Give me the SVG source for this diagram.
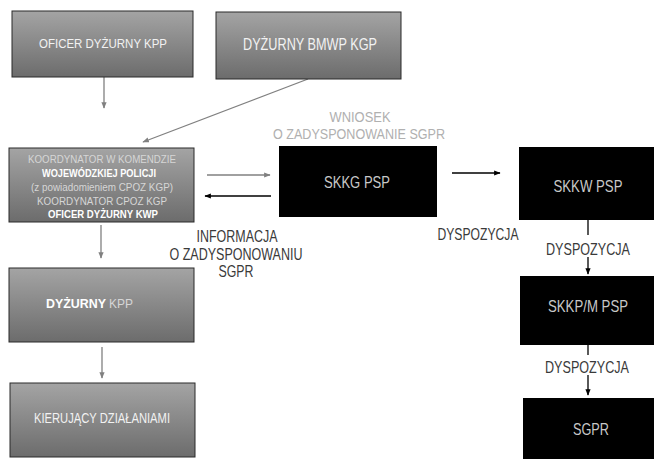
<svg xmlns="http://www.w3.org/2000/svg" width="654" height="459" viewBox="0 0 654 459">
<style>
text{font-family:"Liberation Sans",Arial,sans-serif;text-anchor:middle}
.g{fill:url(#grad);stroke:#2a2a2a;stroke-width:1}
.k{fill:#000}
.wt{fill:#f2f2f2;font-size:13px}
.lt{fill:#d6d6d6;font-size:11.5px}
.bw{fill:#ffffff;font-size:11.5px;font-weight:bold}
.ck{fill:#c8c8c8;font-size:17px}
.lbl{fill:#3a3a3a;font-size:16.5px}
.req{fill:#b0b0b0;font-size:15px}
.ca{stroke:#808080;stroke-width:1.3;fill:none}
.cb{stroke:#000;stroke-width:1.3;fill:none}
</style>
<defs>
<linearGradient id="grad" x1="0" y1="0" x2="0" y2="1">
<stop offset="0" stop-color="#a4a4a4"/>
<stop offset="1" stop-color="#6c6c6c"/>
</linearGradient>
<marker id="ag" viewBox="0 0 10 10" refX="9" refY="5" markerWidth="5" markerHeight="5" orient="auto"><path d="M0,1 L10,5 L0,9 z" fill="#808080"/></marker>
<marker id="ab" viewBox="0 0 10 10" refX="9" refY="5" markerWidth="5" markerHeight="5" orient="auto"><path d="M0,1 L10,5 L0,9 z" fill="#000"/></marker>
</defs>
<rect width="654" height="459" fill="#fff"/>
<g id="connectors">
<line class="ca" x1="104" y1="77" x2="104" y2="108" marker-end="url(#ag)"/>
<line class="ca" x1="308" y1="79" x2="143" y2="142" marker-end="url(#ag)"/>
<line class="ca" x1="207" y1="175" x2="270" y2="175" marker-end="url(#ag)"/>
<line class="cb" x1="271" y1="196" x2="205" y2="196" marker-end="url(#ab)"/>
<line class="ca" x1="101" y1="225" x2="101" y2="258" marker-end="url(#ag)"/>
<line class="ca" x1="102" y1="347" x2="102" y2="378" marker-end="url(#ag)"/>
<line class="cb" x1="452" y1="173" x2="500" y2="173" marker-end="url(#ab)"/>
<line class="cb" x1="588" y1="220" x2="588" y2="235"/>
<line class="cb" x1="588" y1="257" x2="588" y2="274" marker-end="url(#ab)"/>
<line class="cb" x1="588" y1="345" x2="588" y2="355"/>
<line class="cb" x1="588" y1="375" x2="588" y2="395" marker-end="url(#ab)"/>
<text class="req" x="360" y="122" textLength="61" lengthAdjust="spacingAndGlyphs">WNIOSEK</text>
<text class="req" x="359" y="139" textLength="172" lengthAdjust="spacingAndGlyphs">O ZADYSPONOWANIE SGPR</text>
<text class="lbl" x="237" y="242" textLength="81" lengthAdjust="spacingAndGlyphs">INFORMACJA</text>
<text class="lbl" x="236" y="260" textLength="133" lengthAdjust="spacingAndGlyphs">O ZADYSPONOWANIU</text>
<text class="lbl" x="236" y="277" textLength="35" lengthAdjust="spacingAndGlyphs">SGPR</text>
<text class="lbl" x="478" y="240" textLength="81" lengthAdjust="spacingAndGlyphs">DYSPOZYCJA</text>
<text class="lbl" x="588" y="255" textLength="84" lengthAdjust="spacingAndGlyphs">DYSPOZYCJA</text>
<text class="lbl" x="587" y="373" textLength="84" lengthAdjust="spacingAndGlyphs">DYSPOZYCJA</text>
</g>
<g id="oficer-kpp">
<rect class="g" x="12" y="11" width="181" height="66"/>
<text class="wt" x="103" y="48" textLength="128" lengthAdjust="spacingAndGlyphs">OFICER DYŻURNY KPP</text>
</g>
<g id="bmwp">
<rect class="g" x="216" y="12" width="185" height="67"/>
<text class="wt" x="310" y="50" style="font-size:16px" textLength="134" lengthAdjust="spacingAndGlyphs">DYŻURNY BMWP KGP</text>
</g>
<g id="koordynator">
<rect class="g" x="9" y="148" width="185" height="74"/>
<text class="lt" x="102" y="163" textLength="148" lengthAdjust="spacingAndGlyphs">KOORDYNATOR W KOMENDZIE</text>
<text class="bw" x="99" y="177" textLength="114" lengthAdjust="spacingAndGlyphs">WOJEWÓDZKIEJ POLICJI</text>
<text class="lt" x="102" y="191" textLength="142" lengthAdjust="spacingAndGlyphs">(z powiadomieniem CPOZ KGP)</text>
<text class="lt" x="102" y="205" textLength="130" lengthAdjust="spacingAndGlyphs">KOORDYNATOR CPOZ KGP</text>
<text class="bw" x="103" y="218" textLength="110" lengthAdjust="spacingAndGlyphs">OFICER DYŻURNY KWP</text>
</g>
<g id="skkg">
<rect class="k" x="279" y="146" width="158" height="71"/>
<text class="ck" x="357" y="188" textLength="66" lengthAdjust="spacingAndGlyphs">SKKG  PSP</text>
</g>
<g id="skkw">
<rect class="k" x="519" y="147" width="135" height="73"/>
<text class="ck" x="588" y="192" textLength="69" lengthAdjust="spacingAndGlyphs">SKKW  PSP</text>
</g>
<g id="skkp">
<rect class="k" x="520" y="276" width="134" height="69"/>
<text class="ck" x="588" y="312" textLength="80" lengthAdjust="spacingAndGlyphs">SKKP/M  PSP</text>
</g>
<g id="sgpr">
<rect class="k" x="523" y="398" width="131" height="61"/>
<text class="ck" x="591" y="435" textLength="36" lengthAdjust="spacingAndGlyphs">SGPR</text>
</g>
<g id="dyzurny-kpp">
<rect class="g" x="9" y="268" width="185" height="74"/>
<text x="46" y="308" style="font-size:12.5px;text-anchor:start;font-weight:bold" fill="#ffffff" textLength="60" lengthAdjust="spacingAndGlyphs">DYŻURNY</text>
<text x="109" y="308" style="font-size:12.5px;text-anchor:start" fill="#d6d6d6" textLength="24" lengthAdjust="spacingAndGlyphs">KPP</text>
</g>
<g id="kierujacy">
<rect class="g" x="10" y="383" width="185" height="74"/>
<text class="wt" x="102" y="423" style="font-size:14px" textLength="136" lengthAdjust="spacingAndGlyphs">KIERUJĄCY DZIAŁANIAMI</text>
</g>
</svg>
